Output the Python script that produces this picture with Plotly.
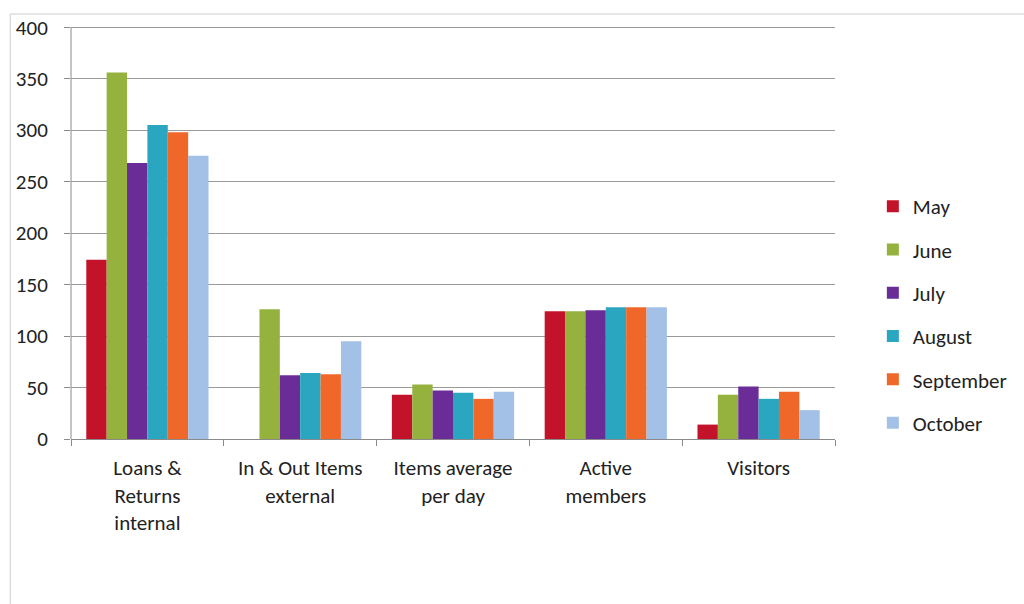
import plotly.graph_objects as go

categories = ["Loans &<br>Returns<br>internal", "In & Out Items<br>external",
              "Items average<br>per day", "Active<br>members", "Visitors"]
months = ["May", "June", "July", "August", "September", "October"]
may = [174, None, 43, 124, 14]
june = [356, 126, 53, 124, 43]
july = [268, 62, 47, 125, 51]
august = [305, 64, 45, 128, 39]
september = [298, 63, 39, 128, 46]
october = [275, 95, 46, 128, 28]
series = [may, june, july, august, september, october]
colors = ["#C3132B", "#95B23F", "#6A2D98", "#2AA6C1", "#F0672A", "#A3C0E6"]
y_ticks = [0, 50, 100, 150, 200, 250, 300, 350, 400]

FONT = "Carlito, Lato, 'Liberation Sans', sans-serif"

fig = go.Figure()
for i, (name, vals, col) in enumerate(zip(months, series, colors)):
    fig.add_trace(go.Bar(x=categories, y=vals, name=name, marker_color=col,
                         marker_line_width=0, legendgroup=name))

W, H = 1024, 604
L, R, B = 71, 838, 439
YMAX = 405
ph = round(412 * YMAX / 400)
T = B - ph
pw = R - L

fig.update_layout(
    width=W, height=H,
    margin=dict(l=L, r=W - R, t=T, b=H - B, pad=0),
    paper_bgcolor="white", plot_bgcolor="white",
    barmode="group", bargap=0.2, bargroupgap=0,
    font=dict(family=FONT, size=21, color="#222222"),
    legend=dict(x=(876 - L) / pw, y=(B - 186) / ph, xanchor="left", yanchor="top",
                font=dict(size=21), tracegroupgap=13, bgcolor="rgba(0,0,0,0)",
                itemwidth=30),
    xaxis=dict(showline=True, linecolor="#8a8a8a", linewidth=1,
               ticks="outside", ticklen=6, tickcolor="#8a8a8a", tickson="boundaries",
               tickfont=dict(size=21), showgrid=False, ticklabelstandoff=10),
    yaxis=dict(range=[0, YMAX], tickvals=y_ticks, showline=False,
               ticks="outside", ticklen=6, tickcolor="#8a8a8a",
               gridcolor="#9a9a9a", gridwidth=1, zeroline=False,
               tickfont=dict(size=21), ticklabelstandoff=12),
    shapes=[dict(type="rect", xref="paper", yref="paper",
                 x0=(10 - L) / pw, x1=(1030 - L) / pw,
                 y0=(B - 610) / ph, y1=(B - 14) / ph,
                 line=dict(color="#cccccc", width=1), fillcolor="rgba(0,0,0,0)",
                 layer="below"),
            dict(type="line", xref="paper", yref="y", x0=0, x1=0,
                 y0=0, y1=y_ticks[-1], line=dict(color="#8a8a8a", width=1))],
)

fig.write_html("out.html")
